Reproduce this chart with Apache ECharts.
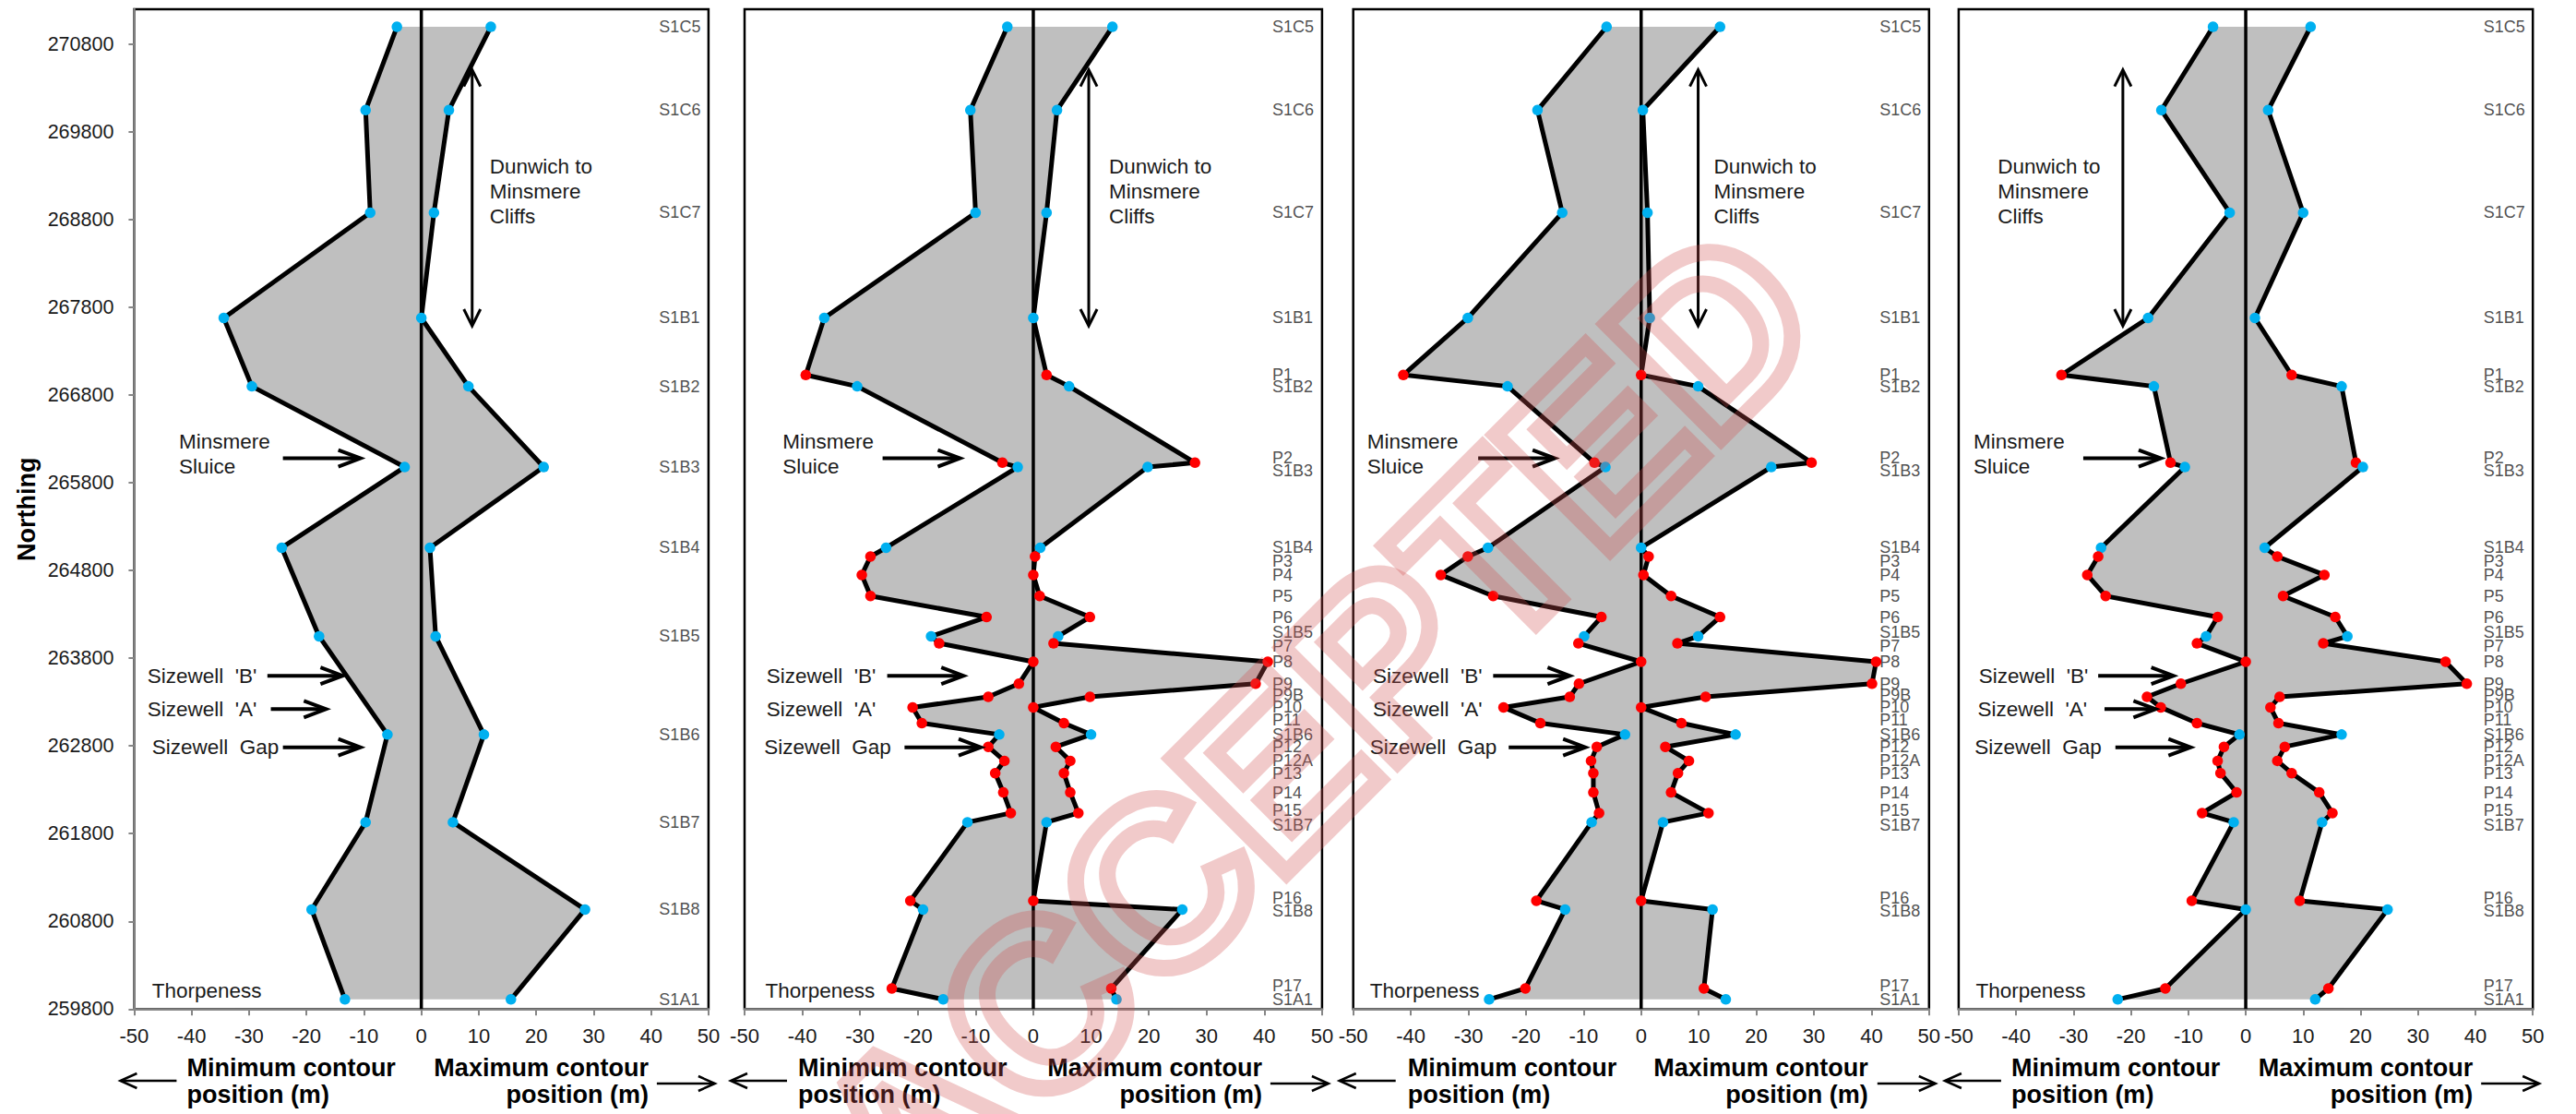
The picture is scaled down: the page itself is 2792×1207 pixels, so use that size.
<!DOCTYPE html>
<html><head><meta charset="utf-8">
<script src="https://cdn.jsdelivr.net/npm/echarts@6/dist/echarts.min.js"></script>
<style>
html,body{margin:0;padding:0;background:#fff;overflow:hidden;width:2792px;height:1207px}
#c{position:absolute;left:0;top:0;width:2792px;height:1207px}
</style></head><body><div id="c"></div>
<script>
// ---------------- data ----------------
const profiles = ['S1C5','S1C6','S1C7','S1B1','P1','S1B2','P2','S1B3','S1B4','P3','P4','P5','P6','S1B5','P7','P8','P9','P9B','P10','P11','S1B6','P12','P12A','P13','P14','P15','S1B7','P16','S1B8','P17','S1A1'];
const northing = [271000,270050,268880,267680,267030,266900,266030,265980,265060,264960,264750,264510,264270,264050,263970,263760,263510,263360,263240,263060,262930,262790,262630,262490,262270,262035,261930,261035,260935,260035,259910];
const yTicks = [259800,260800,261800,262800,263800,264800,265800,266800,267800,268800,269800,270800];
const xTicks = [-50,-40,-30,-20,-10,0,10,20,30,40,50];

// panel 1 (S profiles only)
const p1Min = [-4.25,-9.7,-8.9,-34.4,null,-29.5,null,-2.9,-24.3,null,null,null,null,-17.8,null,null,null,null,null,null,-5.9,null,null,null,null,null,-9.7,null,-19.1,null,-13.3];
const p1Max = [12.1,4.8,2.2,0,null,8.2,null,21.3,1.5,null,null,null,null,2.5,null,null,null,null,null,null,10.9,null,null,null,null,null,5.5,null,28.5,null,15.6];
// panel 2
const p2Min = [-4.5,-10.9,-10.0,-36.2,-39.4,-30.5,-5.35,-2.7,-25.5,-28.2,-29.7,-28.2,-8.1,-17.7,-16.3,0,-2.5,-7.8,-20.9,-19.3,-5.9,-7.8,-5.0,-6.6,-5.2,-3.9,-11.4,-21.3,-19.1,-24.5,-15.6];
const p2Max = [13.7,4.1,2.3,0,2.3,6.2,28.0,19.8,1.2,0.3,0,1.1,9.8,4.3,3.5,40.6,38.5,9.8,0,5.3,10.0,3.9,6.4,5.3,6.4,7.8,2.3,0,25.8,13.5,14.4];
// panel 3
const p3Min = [-6.0,-18.0,-13.7,-30.1,-41.3,-23.2,-8.1,-6.2,-26.6,-30.1,-34.8,-25.7,-6.9,-9.9,-10.9,0,-10.8,-12.4,-23.9,-17.5,-2.8,-7.7,-8.7,-8.3,-8.3,-7.3,-8.6,-18.2,-13.2,-20.1,-26.4];
const p3Max = [13.7,0.3,1.1,1.5,0,9.9,29.6,22.6,0,1.3,0.4,5.2,13.7,9.9,6.3,40.8,40.1,11.2,0,7.0,16.4,4.2,8.3,6.4,5.2,11.7,3.8,0,12.4,10.9,14.7];
// panel 4
const p4Min = [-5.7,-14.7,-2.8,-17.0,-32.1,-16.0,-13.1,-10.6,-25.2,-25.7,-27.6,-24.4,-4.9,-6.9,-8.5,0,-11.3,-17.2,-14.8,-8.5,-1.1,-3.8,-4.9,-4.4,-1.6,-7.6,-2.1,-9.4,0,-14.0,-22.3];
const p4Max = [11.3,3.9,10.0,1.6,8.0,16.7,19.2,20.4,3.3,5.5,13.7,6.5,15.6,17.7,13.5,34.8,38.5,5.9,4.3,5.7,16.7,6.8,5.5,8.0,12.8,15.1,13.3,9.4,24.7,14.4,12.1];

const axisLabelTitles = ['Minimum contour\nposition (m)', 'Maximum contour\nposition (m)'];
const placeNames = {dun:'Dunwich to\nMinsmere\nCliffs', mins:'Minsmere\nSluice', b:"Sizewell  'B'", a:"Sizewell  'A'", gap:'Sizewell  Gap', thor:'Thorpeness'};

// ---------------- layout ----------------
const Y_MIN = 259800, Y_MAX = 271200;
const TOP = 10, BOTTOM = 1093.3;
const panelEdges = [[145.4,767.9],[807.0,1432.9],[1466.7,2090.8],[2122.9,2745.2]];
const LABEL_X = 41.4;
// small vertical nudges (px) of crowded profile labels, as in the original figure
const labelDy = {P2:-5, S1B3:4, P3:5, S1B5:-4, P7:3, P9B:-2, P11:-3.5, P15:-3, S1B7:3, P16:-3, S1B8:1.5, P17:-3};
const BLUE = '#00B0F0', RED = '#FF0000', FILL = '#BFBFBF';
const FONT = '"Liberation Sans", Arial, Helvetica, sans-serif';
const TXT = '#1a1a1a';
const panels = [
  {min:p1Min, max:p1Max},
  {min:p2Min, max:p2Max},
  {min:p3Min, max:p3Max},
  {min:p4Min, max:p4Max}
];

const chart = echarts.init(document.getElementById('c'), null, {renderer:'svg', width:2792, height:1207});

const grids = [], xAxes = [], yAxes = [], series = [];
panels.forEach((p, i) => {
  const [l, r] = panelEdges[i];
  grids.push({left:l, width:r-l, top:TOP, height:BOTTOM-TOP, show:true, borderColor:'#000', borderWidth:2.5, backgroundColor:'transparent'});
  xAxes.push({gridIndex:i, type:'value', min:xTicks[0], max:xTicks[xTicks.length-1], interval:10,
    axisLine:{show:true, onZero:false, lineStyle:{color:'#868686', width:2.5}},
    axisTick:{show:true, length:7, lineStyle:{color:'#868686', width:2}},
    axisLabel:{fontSize:22, color:TXT, fontFamily:FONT, margin:18},
    splitLine:{show:false}});
  if (i === 0) {
    yAxes.push({gridIndex:i, type:'value', min:Y_MIN, max:Y_MAX,
      axisLine:{show:true, onZero:false, lineStyle:{color:'#868686', width:2.5}},
      axisTick:{show:true, length:6, customValues:yTicks, lineStyle:{color:'#868686', width:2}},
      axisLabel:{show:true, customValues:yTicks, formatter:(v) => String(v), fontSize:21.5, color:TXT, fontFamily:FONT, margin:22},
      splitLine:{show:false},
      name:'Northing', nameLocation:'middle', nameGap:103, nameRotate:90,
      nameTextStyle:{fontSize:27, fontWeight:'bold', color:'#000', fontFamily:FONT}});
  } else {
    yAxes.push({gridIndex:i, type:'value', min:Y_MIN, max:Y_MAX,
      axisLine:{show:false}, axisTick:{show:false}, axisLabel:{show:false}, splitLine:{show:false}});
  }
  const minPts = [], maxPts = [], labelPts = [];
  profiles.forEach((name, j) => {
    const col = name[0] === 'P' ? RED : BLUE;
    if (p.min[j] != null) minPts.push({value:[p.min[j], northing[j]], itemStyle:{color:col}});
    if (p.max[j] != null) maxPts.push({value:[p.max[j], northing[j]], itemStyle:{color:col}});
    if (p.min[j] != null || p.max[j] != null) {
      labelPts.push({value:[LABEL_X, northing[j]], name:name,
        label:{offset:[0, i === 0 ? 0 : (labelDy[name] || 0)]}});
    }
  });
  const poly = minPts.map(d => d.value).concat(maxPts.map(d => d.value).reverse());
  series.push({type:'custom', xAxisIndex:i, yAxisIndex:i, data:poly, silent:true, z:1,
    renderItem:(params, api) => {
      if (params.dataIndex !== 0) return null;
      return {type:'polygon', shape:{points:poly.map(v => api.coord(v))}, style:{fill:FILL}};
    }});
  series.push({type:'line', xAxisIndex:i, yAxisIndex:i, data:[[0, Y_MIN],[0, Y_MAX]], symbol:'none', silent:true, z:2,
    lineStyle:{color:'#000', width:3.5}});
  [minPts, maxPts].forEach(pts => {
    series.push({type:'line', xAxisIndex:i, yAxisIndex:i, data:pts, z:3, silent:true,
      symbol:'circle', symbolSize:11.5, showSymbol:true, showAllSymbol:true,
      itemStyle:{borderWidth:0}, lineStyle:{color:'#000', width:5}, emphasis:{disabled:true}});
  });
  series.push({type:'scatter', xAxisIndex:i, yAxisIndex:i, data:labelPts, symbolSize:0, silent:true, z:4,
    label:{show:true, position:'right', distance:0, formatter:'{b}',
      fontSize:18, color:'#222', fontFamily:FONT}});
});

chart.setOption({animation:false, backgroundColor:'#fff', grid:grids, xAxis:xAxes, yAxis:yAxes, series:series});

// ---------------- annotations ----------------
const annoX = {
  dunText:[11.9,13.1,12.6,-43.2],
  dunArrow:[8.85,9.6,9.9,-21.4],
  minsText:[-42.2,-43.4,-47.6,-47.4],
  minsArrow:[[-24.1,-10.6],[-26.1,-12.7],[-28.3,-15.0],[-28.3,-14.8]],
  bText:[-47.7,-46.2,-46.6,-46.5],
  bArrow:[[-26.8,-13.7],[-25.3,-12.1],[-25.7,-12.4],[-25.7,-12.6]],
  aText:[-47.7,-46.2,-46.6,-46.7],
  aArrow:[[-26.2,-16.6],null,null,[-24.6,-15.7]],
  gapText:[-46.9,-46.6,-47.1,-47.2],
  gapArrow:[[-24.1,-10.6],[-22.3,-9.1],[-23.0,-9.7],[-22.7,-9.6]],
  thorText:[-46.9,-46.4,-47.1,-47.0]
};
const annoN = {dun:269410, dunTop:270510, dunBot:267590, mins:266265, minsArrow:266080, b:263600, a:263220, gap:262785, thor:260010};
const minOff = [57,58,59,57], maxOff = [65,65,66,65];

function px(i, x, y){ return chart.convertToPixel({gridIndex:i}, [x, y]); }
function line(pts, lw){ return {type:'polyline', silent:true, z:50, shape:{points:pts}, style:{stroke:'#000', lineWidth:lw, fill:null}}; }
function hArrow(x1, x2, y, lw, hl, hh){
  const d = x2 > x1 ? 1 : -1;
  return [line([[x1,y],[x2 - d*lw*0.4,y]], lw), line([[x2-d*hl,y-hh],[x2,y],[x2-d*hl,y+hh]], lw)];
}
function text(x, y, str, size, opts){
  return Object.assign({type:'text', silent:true, z:50, x:x, y:y,
    style:Object.assign({text:str, fontSize:size, fontFamily:FONT, fill:TXT, align:'left', verticalAlign:'middle', lineHeight:27}, opts||{})});
}
function labelBlock(i, key, xv, n){
  const lines = placeNames[key].split('\n').length;
  const p = px(i, xv, n);
  return text(p[0], p[1] + (lines-1)*27/2, placeNames[key], 22.5);
}

const g = [];
panels.forEach((p, i) => {
  g.push(labelBlock(i, 'dun', annoX.dunText[i], annoN.dun));
  const t = px(i, annoX.dunArrow[i], annoN.dunTop), b = px(i, annoX.dunArrow[i], annoN.dunBot);
  const hw = 9, hl = 18;
  g.push(line([[t[0], t[1]+1],[b[0], b[1]-1]], 3));
  g.push(line([[t[0]-hw, t[1]+hl],[t[0], t[1]],[t[0]+hw, t[1]+hl]], 3));
  g.push(line([[b[0]-hw, b[1]-hl],[b[0], b[1]],[b[0]+hw, b[1]-hl]], 3));
  g.push(labelBlock(i, 'mins', annoX.minsText[i], annoN.mins));
  [['minsArrow', annoN.minsArrow], ['bArrow', annoN.b], ['aArrow', annoN.a], ['gapArrow', annoN.gap]].forEach(([k, n]) => {
    const a = annoX[k][i]; if (!a) return;
    const p1 = px(i, a[0], n), p2 = px(i, a[1], n);
    g.push(...hArrow(p1[0], p2[0], p1[1], 4, 24, 9));
  });
  g.push(labelBlock(i, 'b', annoX.bText[i], annoN.b));
  g.push(labelBlock(i, 'a', annoX.aText[i], annoN.a));
  g.push(labelBlock(i, 'gap', annoX.gapText[i], annoN.gap));
  g.push(labelBlock(i, 'thor', annoX.thorText[i], annoN.thor));
  // axis titles below
  const L = px(i, -50, Y_MIN)[0], R = px(i, 50, Y_MIN)[0];
  g.push(text(L + minOff[i], 1171.5, axisLabelTitles[0], 27, {fontWeight:'bold', fill:'#000', lineHeight:29.5}));
  g.push(text(R - maxOff[i], 1171.5, axisLabelTitles[1], 27, {fontWeight:'bold', fill:'#000', lineHeight:29.5, align:'right'}));
  g.push(...hArrow(L + 46, L - 15, 1171, 2.5, 18, 8));
  g.push(...hArrow(R - 56, R + 7, 1174, 2.5, 18, 8));
});
// watermark
g.push({type:'text', x:1425, y:790, rotation:45*Math.PI/180, silent:true, z:100,
  style:{text:'ACCEPTED', fontSize:255, fontWeight:'bold', fontFamily:FONT, fill:'rgba(0,0,0,0)',
         stroke:'rgba(210,80,80,0.3)', lineWidth:18, align:'center', verticalAlign:'middle'}});

chart.setOption({graphic:g});
</script></body></html>
